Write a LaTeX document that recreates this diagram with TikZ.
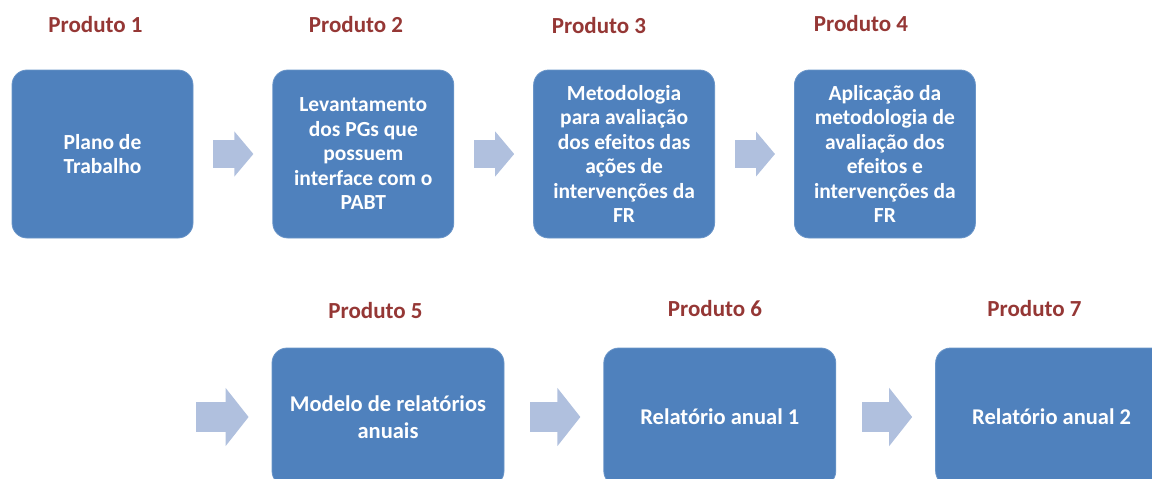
\documentclass[tikz,border=0pt]{standalone}
\usepackage{fontspec}
\setmainfont{Carlito}
\usepackage{tikz}
\usetikzlibrary{positioning, arrows.meta}
\definecolor{boxblue}{HTML}{4F81BD}
\definecolor{boxedge}{HTML}{6A95C8}
\definecolor{arrowblue}{HTML}{B0C0DE}
\definecolor{labelred}{HTML}{953735}
\tikzset{
  produto/.style = {text = labelred, font = \fontsize{23}{27}\selectfont\bfseries},
  stage/.style = {rectangle, rounded corners = 15pt, minimum width = 181pt, minimum height = 168pt, inner sep = 0pt, align = center, text = white, draw = boxedge, line width = 0.8pt, fill = boxblue, font = \fontsize{21.5}{24.5}\selectfont\bfseries},
  stagewide/.style = {stage, minimum width = 232pt, minimum height = 138pt, font = \fontsize{22.5}{27}\selectfont\bfseries},
  flow/.style = {arrowblue, line width = 28pt, -{Triangle[length = 19pt, width = 44pt]}, shorten <= 20pt, shorten >= 19pt},
  flowwide/.style = {arrowblue, line width = 30pt, -{Triangle[length = 23pt, width = 57pt]}, shorten <= 26pt, shorten >= 23pt}
}
\begin{document}
\begin{tikzpicture}[x = 1pt, y = -1pt]
	\useasboundingbox (0,0) rectangle (1152,479);
	
	\node (pr1)[stage] at (102.5,154) {Plano de\\Trabalho};
	\node (pr2)[stage, right = 79pt of pr1]{Levantamento\\dos PGs que\\possuem\\interface com o\\PABT};
	\node (pr3)[stage, right = 79pt of pr2]{Metodologia\\para avaliação\\dos efeitos das\\ações de\\intervenções da\\FR};
	\node (pr4)[stage, right = 79pt of pr3]{Aplicação da\\metodologia de\\avaliação dos\\efeitos e\\intervenções da\\FR};
	\node (pr5)[stagewide] at (388,417) {Modelo de relatórios\\anuais};
	\node (pr6)[stagewide, right = 99pt of pr5]{Relatório anual 1};
	\node (pr7)[stagewide, right = 99pt of pr6]{Relatório anual 2};
	
	\node (lab1)[produto] at (95.5,25) {Produto 1};
	\node (lab2)[produto] at (356,25) {Produto 2};
	\node (lab3)[produto] at (599,26) {Produto 3};
	\node (lab4)[produto] at (861,24) {Produto 4};
	\node (lab5)[produto] at (375.5,311) {Produto 5};
	\node (lab6)[produto] at (715,309) {Produto 6};
	\node (lab7)[produto] at (1034.5,309) {Produto 7};
	
	\coordinate (in5) at (170,417);
	
	\draw [flow] (pr1) -- (pr2);
	\draw [flow] (pr2) -- (pr3);
	\draw [flow] (pr3) -- (pr4);
	
	\draw [flowwide] (in5) -- (pr5);
	\draw [flowwide] (pr5) -- (pr6);
	\draw [flowwide] (pr6) -- (pr7);
\end{tikzpicture}
\end{document}
